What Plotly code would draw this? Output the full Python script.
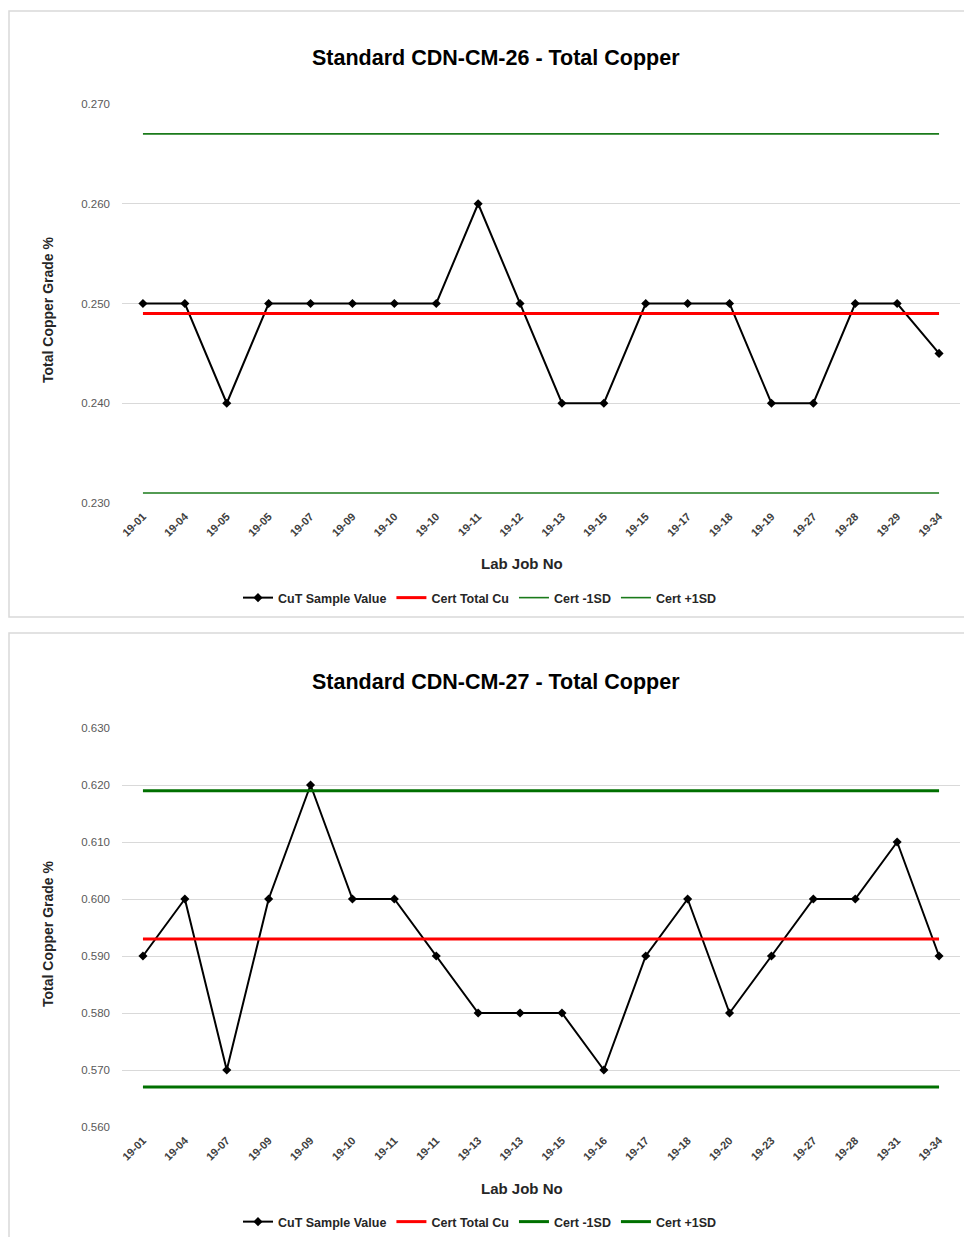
import plotly.graph_objects as go

# ---------------- data ----------------
jobs_26 = ["19-01", "19-04", "19-05", "19-05", "19-07", "19-09", "19-10", "19-10", "19-11", "19-12",
           "19-13", "19-15", "19-15", "19-17", "19-18", "19-19", "19-27", "19-28", "19-29", "19-34"]
cut_26 = [0.250, 0.250, 0.240, 0.250, 0.250, 0.250, 0.250, 0.250, 0.260, 0.250,
          0.240, 0.240, 0.250, 0.250, 0.250, 0.240, 0.240, 0.250, 0.250, 0.245]
cert_26 = 0.249
cert_minus_26 = 0.231
cert_plus_26 = 0.267

jobs_27 = ["19-01", "19-04", "19-07", "19-09", "19-09", "19-10", "19-11", "19-11", "19-13", "19-13",
           "19-15", "19-16", "19-17", "19-18", "19-20", "19-23", "19-27", "19-28", "19-31", "19-34"]
cut_27 = [0.590, 0.600, 0.570, 0.600, 0.620, 0.600, 0.600, 0.590, 0.580, 0.580,
          0.580, 0.570, 0.590, 0.600, 0.580, 0.590, 0.600, 0.600, 0.610, 0.590]
cert_27 = 0.593
cert_minus_27 = 0.567
cert_plus_27 = 0.619

W, H = 972, 1237
OFF = 8  # page body margin
NARROW = "Liberation Sans Narrow, Arial Narrow, Liberation Sans, Arial, sans-serif"
REG = "Liberation Sans, Arial, sans-serif"


def fy(px):
    return 1 - (px - OFF) / H


def fx(px):
    return (px - OFF) / W


fig = go.Figure()


def add_chart(jobs, vals, cert, cm, cp, green_w, green_c, legend_name, xa, ya):
    xs = list(range(len(jobs)))
    n = len(jobs)
    fig.add_trace(go.Scatter(x=xs, y=vals, mode="lines+markers", name="CuT Sample Value",
                             line=dict(color="#000000", width=2),
                             marker=dict(symbol="diamond", size=7, color="#000000"),
                             xaxis=xa, yaxis=ya, legend=legend_name))
    fig.add_trace(go.Scatter(x=xs, y=[cert] * n, mode="lines", name="Cert Total Cu",
                             line=dict(color="#ff0000", width=3), xaxis=xa, yaxis=ya, legend=legend_name))
    fig.add_trace(go.Scatter(x=xs, y=[cm] * n, mode="lines", name="Cert -1SD",
                             line=dict(color=green_c, width=green_w), xaxis=xa, yaxis=ya, legend=legend_name))
    fig.add_trace(go.Scatter(x=xs, y=[cp] * n, mode="lines", name="Cert +1SD",
                             line=dict(color=green_c, width=green_w), xaxis=xa, yaxis=ya, legend=legend_name))


add_chart(jobs_26, cut_26, cert_26, cert_minus_26, cert_plus_26, 1.6, "#1a7a1a", "legend", "x", "y")
add_chart(jobs_27, cut_27, cert_27, cert_minus_27, cert_plus_27, 3, "#007000", "legend2", "x2", "y2")

xdom = [fx(122), fx(960)]
common_x = dict(tickangle=-45, showgrid=False, zeroline=False, showline=False, ticks="",
                tickfont=dict(family=NARROW, size=11, color="#404040", weight="bold"),
                range=[-0.5, 19.5], tickmode="array", automargin=False, ticklabelstandoff=4)
common_y = dict(showgrid=True, gridcolor="#d9d9d9", gridwidth=1, zeroline=False, showline=False,
                tickformat=".3f", dtick=0.01, ticks="", automargin=False, ticklabelstandoff=11,
                tickfont=dict(family=REG, size=11.5, color="#595959"))

title_font = dict(family=NARROW, size=21.5, color="#000000", weight="bold")
axt_font = dict(family=NARROW, size=14, color="#262626", weight="bold")
leg_font = dict(family=NARROW, size=12.5, color="#262626", weight="bold")


def ann(text, x, y, font, angle=0):
    return dict(text=text, x=fx(x), y=fy(y), xref="paper", yref="paper", showarrow=False,
                xanchor="center", yanchor="middle", font=font, textangle=angle)


fig.update_layout(
    width=W, height=H, margin=dict(l=0, r=0, t=0, b=0, autoexpand=False),
    paper_bgcolor="white", plot_bgcolor="white", showlegend=True,
    xaxis=dict(domain=xdom, anchor="y", tickvals=list(range(len(jobs_26))), ticktext=jobs_26, **common_x),
    yaxis=dict(domain=[fy(503), fy(104)], anchor="x", range=[0.230, 0.270], **common_y),
    xaxis2=dict(domain=xdom, anchor="y2", tickvals=list(range(len(jobs_27))), ticktext=jobs_27, **common_x),
    yaxis2=dict(domain=[fy(1127), fy(728)], anchor="x2", range=[0.560, 0.630], **common_y),
    legend=dict(orientation="h", x=fx(480), xanchor="center", y=fy(598), yanchor="middle",
                font=leg_font, itemwidth=30, bgcolor="rgba(0,0,0,0)"),
    legend2=dict(orientation="h", x=fx(480), xanchor="center", y=fy(1222), yanchor="middle",
                 font=leg_font, itemwidth=30, bgcolor="rgba(0,0,0,0)"),
    annotations=[
        ann("Standard CDN-CM-26 - Total Copper", 496, 58, title_font),
        ann("Standard CDN-CM-27 - Total Copper", 496, 682, title_font),
        ann("Lab Job No", 522, 563, dict(axt_font, size=15)),
        ann("Lab Job No", 522, 1188, dict(axt_font, size=15)),
        ann("Total Copper Grade %", 48, 310, axt_font, -90),
        ann("Total Copper Grade %", 48, 934, axt_font, -90),
    ],
    shapes=[
        dict(type="rect", xref="paper", yref="paper", x0=fx(9), x1=1.05, y0=fy(617), y1=fy(11),
             line=dict(color="#d9d9d9", width=1.5), fillcolor="rgba(0,0,0,0)", layer="below"),
        dict(type="rect", xref="paper", yref="paper", x0=fx(9), x1=1.05, y0=-0.05, y1=fy(633),
             line=dict(color="#d9d9d9", width=1.5), fillcolor="rgba(0,0,0,0)", layer="below"),
    ],
)

fig.write_html("out.html")
